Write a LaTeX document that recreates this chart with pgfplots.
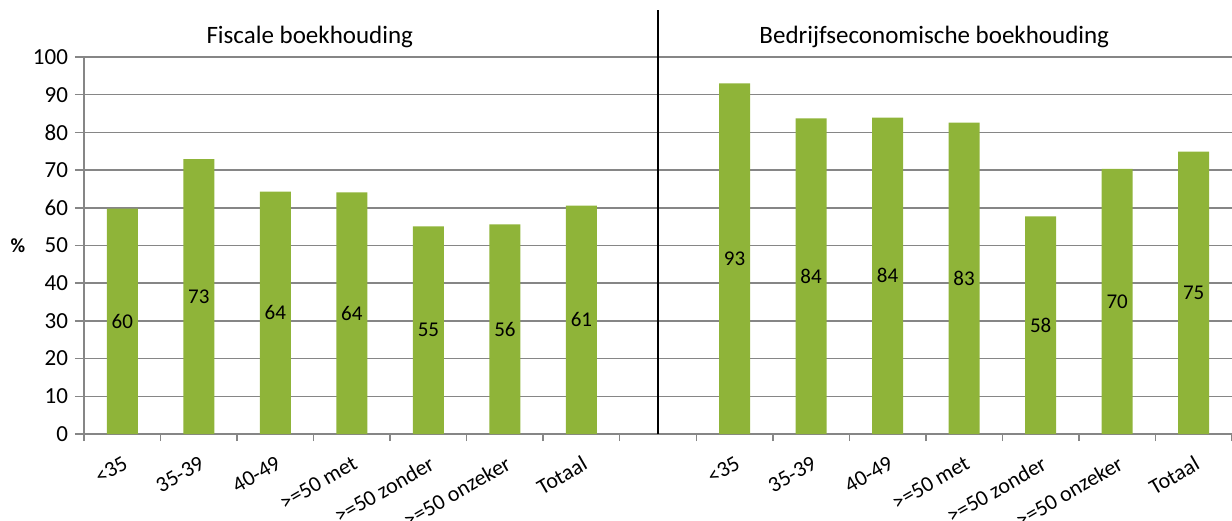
\documentclass[border=0pt]{standalone}
\usepackage{fontspec}
\setmainfont{Carlito}
\usepackage{pgfplots}
\usepackage{pgfplotstable}
\pgfplotsset{compat=1.18}
\definecolor{bargreen}{RGB}{143,180,57}
\definecolor{axisgray}{RGB}{134,134,134}

% slot 7 is the empty gap between the two groups
\pgfplotstableread{
x  y
0  59.8
1  72.9
2  64.3
3  64.1
4  55.1
5  55.6
6  60.6
8  93.0
9  83.7
10 83.9
11 82.6
12 57.7
13 70.3
14 74.9
}\bars

\begin{document}
\begin{tikzpicture}
\begin{axis}[
    scale only axis,
    width=574pt, height=188.5pt,
    xmin=-0.5, xmax=14.5,
    ymin=0, ymax=100,
    clip=false,
    axis x line*=bottom,
    axis y line*=left,
    axis line style={axisgray, line width=0.75pt, -},
    ymajorgrids,
    grid style={axisgray, line width=0.75pt},
    ytick={0,10,...,100},
    xtick={0,1,2,3,4,5,6,8,9,10,11,12,13,14},
    xticklabels={<35,35-39,40-49,>=50 met,>=50 zonder,>=50 onzeker,Totaal,
                 <35,35-39,40-49,>=50 met,>=50 zonder,>=50 onzeker,Totaal},
    minor xtick={-0.5,0.5,...,14.5},
    tick align=outside,
    major tick length=4.5pt,
    minor tick length=3.5pt,
    major x tick style={draw=none},
    minor x tick style={axisgray, line width=0.75pt},
    ytick style={axisgray, line width=0.75pt},
    yticklabel style={font=\fontsize{11.5}{13}\selectfont},
    xticklabel style={font=\fontsize{11}{13}\selectfont, rotate=30, anchor=north east,
        inner sep=1pt, yshift=-4pt, xshift=-2pt},
    /pgf/number format/assume math mode=true,
]

\addplot[ybar, bar width=15.5pt, fill=bargreen, draw=none] table[x=x, y=y] {\bars};

% value labels, centred in each bar
\addplot[draw=none, mark=none,
    point meta=explicit,
    nodes near coords={\pgfmathprintnumber[fixed,precision=0,assume math mode=true]{\pgfplotspointmeta}},
    every node near coord/.append style={anchor=center, font=\fontsize{10.5}{12}\selectfont, text=black}]
    table[x=x, y expr=\thisrow{y}/2, meta=y] {\bars};

\draw[black, line width=1pt] (axis cs:7,0) -- (axis cs:7,112.5);

\node[font=\fontsize{12.5}{15}\selectfont] at (axis cs:2.45,105.3) {Fiscale boekhouding};
\node[font=\fontsize{12.5}{15}\selectfont] at (axis cs:10.61,105.3) {Bedrijfseconomische boekhouding};
\node[font=\bfseries\fontsize{10}{12}\selectfont, xshift=-33pt] at (axis cs:-0.5,50) {\%};
\end{axis}
\pgfresetboundingbox
\path[use as bounding box] (-42pt,-43pt) rectangle (574pt,217pt);
\end{tikzpicture}
\end{document}
